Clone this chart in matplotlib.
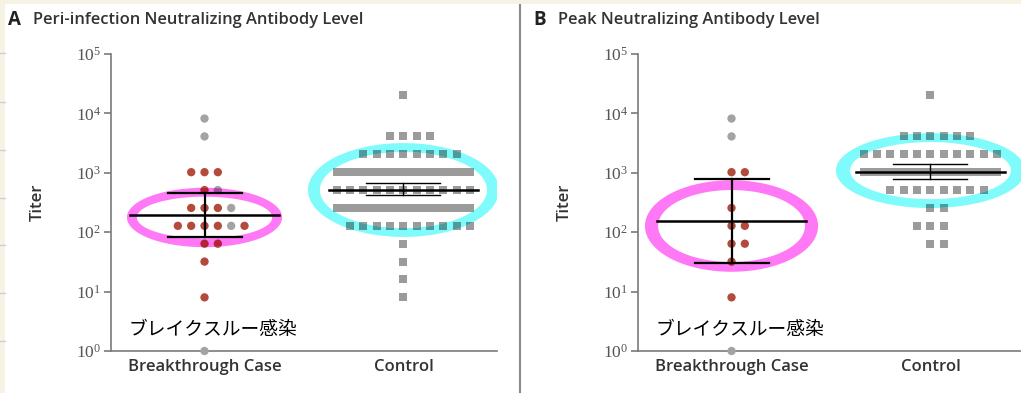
import numpy as np
import matplotlib
matplotlib.use("Agg")
import matplotlib.pyplot as plt
from matplotlib.path import Path
from matplotlib.patches import PathPatch, Rectangle
from matplotlib.lines import Line2D
from matplotlib.colors import to_rgb
from matplotlib.ticker import NullLocator

plt.rcParams['font.family'] = ['Open Sans', 'DejaVu Sans']
plt.rcParams['mathtext.fontset'] = 'custom'
plt.rcParams['mathtext.rm'] = 'Liberation Serif'
plt.rcParams['mathtext.default'] = 'rm'

# titers per subject (rows read left to right), 1 = red dot, 0 = gray dot
peri_case = [8192, 4096, 1024, 1024, 1024, 512, 512, 256, 256, 256, 256,
             128, 128, 128, 128, 128, 128, 64, 64, 32, 8, 1]
peri_case_red = [0, 0, 1, 1, 1, 1, 0, 1, 1, 1, 0,
                 1, 1, 1, 1, 0, 1, 1, 1, 1, 1, 0]
peri_ctrl = ([20480] + [4096] * 4 + [2048] * 8 + [1024] * 22 + [512] * 11 +
             [256] * 22 + [128] * 10 + [64, 32, 16, 8])

peak_case = [8192, 4096, 1024, 1024, 256, 128, 128, 64, 64, 32, 8, 1]
peak_case_red = [0, 0, 1, 1, 1, 1, 1, 1, 1, 1, 1, 0]
peak_ctrl = ([20480] + [4096] * 6 + [2048] * 11 + [1024] * 24 + [512] * 8 +
             [256] * 2 + [128] * 3 + [64] * 2)

# center line, lower bar, upper bar
peri_case_stats = (195, 84, 462)
peri_ctrl_stats = (512, 425, 680)
peak_case_stats = (155, 30, 780)
peak_ctrl_stats = (1024, 787, 1390)

groups = ['Breakthrough Case', 'Control']
titles = [('A', 'Peri-infection Neutralizing Antibody Level'),
          ('B', 'Peak Neutralizing Antibody Level')]
note = 'ブレイクスルー感染'

RED = '#b44a3b'
GRAY_DOT = '#a3a3a3'
GRAY_SQ = '#9b9b9b'
PINK = '#ff78f5'
CYAN = '#80fbfb'
STEP = 0.067


def row_offsets(n, max_half=5):
    if n - 1 <= 2 * max_half:
        return (np.arange(n) - (n - 1) // 2) * STEP
    return np.linspace(-max_half, max_half, n) * STEP


def swarm(x0, vals):
    vals = np.asarray(vals)
    xs = np.zeros(len(vals))
    for v in np.unique(vals):
        idx = np.where(vals == v)[0]
        xs[idx] = x0 + row_offsets(len(idx))
    return xs, vals


def ring(ax, cx, cy, a_out, b_out, a_in, b_in, color):
    t = np.linspace(0, 2 * np.pi, 200)
    ly = np.log10(cy)
    outer = np.column_stack([cx + a_out * np.cos(t), 10 ** (ly + b_out * np.sin(t))])
    inner = np.column_stack([cx + a_in * np.cos(t[::-1]), 10 ** (ly + b_in * np.sin(t[::-1]))])
    verts = np.vstack([outer, inner])
    codes = ([Path.MOVETO] + [Path.LINETO] * 199) * 2
    p = PathPatch(Path(verts, codes), facecolor=color, edgecolor='none', zorder=4)
    ax.add_patch(p)
    return p


def tint(c, ring_color):
    return tuple(np.array(to_rgb(c)) * np.array(to_rgb(ring_color)))


def summary(ax, x, stats, lw_ci):
    mid, lo, hi = stats
    ax.plot([x - 0.375, x + 0.375], [mid, mid], color='k', lw=1.8, zorder=6)
    for v in (lo, hi):
        ax.plot([x - 0.186, x + 0.186], [v, v], color='k', lw=lw_ci, zorder=6)
    ax.plot([x, x], [lo, hi], color='k', lw=lw_ci, zorder=6)


def panel(ax, case, case_red, ctrl, case_stats, ctrl_stats, pink_ring, cyan_ring):
    cx, cy = swarm(0, case)
    ccol = [RED if r else GRAY_DOT for r in case_red]
    ax.scatter(cx, cy, s=36, c=ccol, marker='o', linewidths=0, zorder=3, clip_on=False)
    kx, ky = swarm(1, ctrl)
    ax.scatter(kx, ky, s=26, c=GRAY_SQ, marker='s', linewidths=0, zorder=3)

    pp = ring(ax, 0, *pink_ring, PINK)
    sc = ax.scatter(cx, cy, s=36, c=[tint(c, PINK) for c in ccol], marker='o',
                    linewidths=0, zorder=5)
    sc.set_clip_path(pp)
    cp = ring(ax, 1, *cyan_ring, CYAN)
    sc = ax.scatter(kx, ky, s=26, c=[tint(GRAY_SQ, CYAN)], marker='s',
                    linewidths=0, zorder=5)
    sc.set_clip_path(cp)

    summary(ax, 0, case_stats, 1.6)
    summary(ax, 1, ctrl_stats, 1.0)

    ax.set_yscale('log')
    ax.set_ylim(1, 1e5)
    ax.set_xlim(-0.47, 1.47)
    ax.set_facecolor('none')
    for s in ('top', 'right'):
        ax.spines[s].set_visible(False)
    for s in ('left', 'bottom'):
        ax.spines[s].set_color('#7a7a7a')
        ax.spines[s].set_linewidth(1.2)
    ax.set_xticks([0, 1], groups, fontsize=12, fontweight='semibold', color='#333333')
    ax.tick_params(axis='x', length=0, pad=6)
    ax.set_yticks([10 ** k for k in range(6)], [r'$10^{%d}$' % k for k in range(6)])
    ax.yaxis.set_minor_locator(NullLocator())
    ax.tick_params(axis='y', length=5, width=1.2, color='#7a7a7a', pad=2,
                   labelsize=12.5, labelcolor='#555555')
    ax.set_ylabel('Titer', fontsize=12, fontweight='semibold', color='#333333')
    ax.yaxis.set_label_coords(-0.17, 0.5)
    ax.text(-0.38, 10 ** 0.36, note, fontsize=13.5, va='center', ha='left',
            family=['Noto Sans CJK JP', 'DejaVu Sans'], color='k')


fig = plt.figure(figsize=(10.21, 3.93), dpi=100)
fig.patch.set_facecolor('white')

W, H = 1021, 393
axA = fig.add_axes([111 / W, 1 - 351 / H, 386 / W, 297 / H])
axB = fig.add_axes([638 / W, 1 - 351 / H, 386 / W, 297 / H])

# rings: center value, outer a, outer b (decades), inner a, inner b
panel(axA, peri_case, peri_case_red, peri_ctrl, peri_case_stats, peri_ctrl_stats,
      (177, 0.39, 0.50, 0.34, 0.35), (513, 0.48, 0.79, 0.42, 0.64))
panel(axB, peak_case, peak_case_red, peak_ctrl, peak_case_stats, peak_ctrl_stats,
      (127, 0.435, 0.77, 0.369, 0.606), (1090, 0.475, 0.63, 0.404, 0.48))

# page frame: beige margins, ruled lines, divider
fig.patches.append(Rectangle((0, 1 - 4 / H), 1, 4 / H, transform=fig.transFigure,
                             facecolor='#f6f3e5', edgecolor='none', zorder=0))
fig.patches.append(Rectangle((0, 0), 5 / W, 1, transform=fig.transFigure,
                             facecolor='#f6f3e5', edgecolor='none', zorder=0))
for yp in (53, 102, 150, 198, 245, 293, 341):
    fig.add_artist(Line2D([0, 5 / W], [1 - yp / H] * 2, color='#cfcfcf', lw=1))
fig.add_artist(Line2D([520 / W] * 2, [0, 1 - 5 / H], color='#8a8a8a', lw=1.5))

for (letter, title), x0, x1 in zip(titles, (8, 533), (33, 558)):
    fig.text(x0 / W, 1 - 20 / H, letter, fontsize=13.5, fontweight='bold',
             color='#222222', va='center')
    fig.text(x1 / W, 1 - 20 / H, title, fontsize=11.9, fontweight='semibold',
             color='#333333', va='center')

fig.savefig('out.png', dpi=100)
